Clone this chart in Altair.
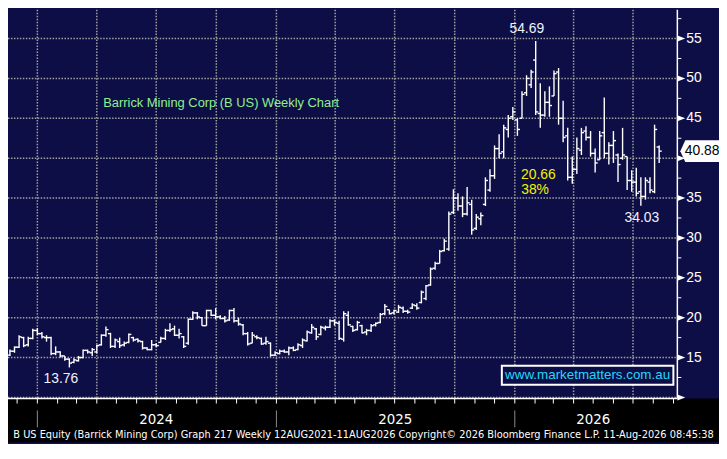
import altair as alt
import pandas as pd

# ---------------- data ----------------
first_week = "2023-11-20"

opens = [15.3, 15.8, 16.3, 17.5, 16.6, 17.4, 18.4, 18.0, 17.5, 17.5,
         15.5, 15.7, 15.2, 14.8, 14.4, 14.6, 15.0, 15.9, 15.6, 15.7,
         16.6, 17.8, 18.0, 16.4, 17.0, 16.6, 16.9, 17.5, 17.3, 17.0,
         16.2, 16.0, 16.6, 16.9, 17.4, 18.4, 18.6, 17.8, 17.6, 16.8,
         19.8, 20.6, 20.0, 19.0, 20.9, 20.3, 20.1, 19.9, 19.7, 20.9,
         19.6, 19.1, 18.0, 16.8, 17.6, 17.4, 16.8, 16.8, 15.3, 15.5,
         15.8, 15.7, 16.2, 16.0, 16.5, 17.1, 18.1, 18.6, 17.9, 18.7,
         18.8, 19.6, 19.3, 17.3, 20.3, 18.9, 18.5, 19.0, 18.2, 18.4,
         19.1, 19.4, 20.5, 21.0, 20.6, 20.7, 21.2, 20.8, 21.2, 21.5,
         21.9, 22.4, 24.1, 26.2, 26.8, 28.4, 28.6, 33.2, 35.0, 34.0,
         33.0, 34.2, 31.2, 32.4, 34.2, 36.0, 37.8, 41.2, 40.8, 43.6,
         45.2, 44.8, 45.0, 48.2, 49.2, 52.3, 45.6, 45.4, 47.0, 47.8,
         50.8, 45.0, 42.8, 37.6, 38.6, 41.0, 43.4, 42.6, 40.6, 39.8,
         43.2, 40.6, 41.6, 40.4, 40.0, 40.2, 37.2, 37.0, 35.8, 35.2,
         37.0, 35.8, 41.4]

highs = [16.0, 16.4, 17.8, 17.6, 17.6, 18.6, 18.7, 18.2, 17.8, 17.6,
         16.4, 15.8, 15.2, 14.9, 14.9, 15.2, 16.0, 16.0, 16.2, 16.6,
         17.9, 18.9, 18.1, 17.4, 17.5, 17.0, 18.0, 17.6, 17.4, 17.1,
         16.3, 17.2, 16.8, 17.6, 18.6, 19.3, 19.0, 18.6, 17.7, 19.9,
         20.8, 20.7, 20.1, 21.0, 21.0, 21.2, 20.3, 20.2, 21.0, 21.2,
         20.0, 19.2, 18.2, 18.2, 17.8, 17.5, 17.6, 16.9, 15.8, 16.0,
         16.0, 16.4, 16.4, 16.8, 17.4, 18.4, 19.2, 18.7, 19.0, 19.0,
         19.8, 19.8, 19.6, 20.8, 20.8, 19.0, 19.6, 19.1, 18.6, 19.2,
         19.4, 20.6, 21.7, 21.0, 21.0, 21.6, 21.4, 21.0, 21.8, 21.8,
         23.4, 24.1, 26.3, 27.0, 28.5, 29.9, 33.3, 36.1, 35.6, 35.2,
         36.4, 34.8, 33.0, 33.2, 37.6, 38.6, 41.6, 43.0, 44.2, 45.4,
         46.4, 45.0, 48.4, 50.4, 51.1, 54.69, 49.4, 48.4, 49.0, 51.0,
         51.3, 47.2, 43.8, 40.2, 42.6, 43.8, 44.0, 43.4, 41.2, 43.4,
         47.6, 42.0, 43.4, 40.6, 43.8, 40.2, 38.5, 38.8, 37.6, 37.6,
         37.6, 44.2, 41.6]

lows = [15.2, 15.6, 16.2, 16.3, 16.4, 17.3, 17.8, 17.4, 17.0, 15.3,
        15.3, 15.0, 14.6, 13.76, 14.3, 14.5, 14.9, 15.5, 15.2, 15.5,
        16.5, 17.6, 16.2, 16.2, 16.2, 16.4, 16.8, 17.0, 16.9, 16.0,
        15.9, 15.9, 16.3, 16.9, 17.2, 18.2, 17.7, 17.4, 16.2, 16.6,
        19.7, 19.8, 19.0, 19.0, 20.2, 19.8, 19.8, 19.4, 19.6, 19.4,
        19.0, 17.8, 16.5, 16.8, 17.3, 16.6, 16.6, 15.1, 15.2, 15.4,
        15.6, 15.3, 15.8, 15.9, 16.2, 17.0, 18.0, 17.2, 17.8, 18.4,
        18.7, 19.0, 17.2, 17.0, 19.0, 18.2, 18.4, 18.0, 17.8, 18.2,
        18.9, 19.3, 20.3, 20.4, 20.4, 20.6, 20.6, 20.5, 21.1, 21.0,
        21.8, 22.2, 24.0, 26.0, 26.8, 28.3, 28.4, 33.0, 33.4, 32.6,
        32.8, 30.4, 31.0, 31.6, 34.0, 35.8, 37.4, 40.0, 40.0, 42.6,
        44.8, 42.8, 45.0, 47.8, 48.8, 45.4, 43.8, 45.2, 45.2, 47.8,
        44.2, 42.0, 37.2, 36.8, 38.0, 40.4, 42.2, 40.2, 38.2, 39.8,
        40.0, 39.2, 39.4, 37.0, 39.8, 36.0, 35.8, 35.2, 34.03, 34.8,
        35.6, 35.6, 39.4]

closes = [15.8, 16.3, 17.6, 16.5, 17.4, 18.4, 18.0, 17.6, 17.5, 15.5,
          15.7, 15.2, 14.8, 14.3, 14.7, 15.0, 15.9, 15.7, 16.0, 16.5,
          17.8, 18.5, 16.4, 17.2, 16.5, 16.8, 17.9, 17.2, 17.1, 16.2,
          16.0, 16.6, 16.5, 17.4, 18.4, 18.5, 17.8, 18.0, 16.4, 19.8,
          20.6, 20.1, 19.0, 20.9, 20.3, 20.1, 19.9, 19.6, 20.9, 19.6,
          19.2, 18.0, 16.7, 17.8, 17.5, 16.7, 17.0, 15.3, 15.6, 15.8,
          15.7, 16.2, 15.9, 16.6, 17.2, 18.2, 18.8, 17.6, 18.8, 18.8,
          19.6, 19.4, 17.4, 20.5, 19.1, 18.4, 19.4, 18.1, 18.4, 19.0,
          19.3, 20.4, 21.4, 20.5, 20.9, 21.3, 20.8, 20.7, 21.6, 21.2,
          23.2, 24.0, 26.1, 26.8, 28.3, 29.6, 33.0, 35.0, 34.0, 33.0,
          34.4, 31.0, 32.6, 32.8, 37.2, 37.8, 41.2, 40.6, 43.8, 45.0,
          45.8, 43.6, 48.0, 50.0, 50.8, 45.8, 45.4, 47.0, 46.6, 50.6,
          45.0, 42.6, 37.6, 38.6, 41.2, 43.2, 42.6, 40.6, 39.4, 42.8,
          40.6, 41.6, 42.2, 39.2, 40.4, 37.2, 37.0, 35.6, 35.2, 37.2,
          36.0, 43.6, 40.88]

week_dates = pd.date_range(first_week, periods=len(closes), freq="7D").strftime("%Y-%m-%dT00:00:00").tolist()

price_grid = [10, 15, 20, 25, 30, 35, 40, 45, 50, 55]
axis_ticks = [10, 12.5, 15, 17.5, 20, 22.5, 25, 27.5, 30, 32.5, 35, 37.5,
              40, 42.5, 45, 47.5, 50, 52.5, 55, 57.5]
price_labels = [15, 20, 25, 30, 35, 40, 45, 50, 55]
quarter_starts = ["2024-01-01", "2024-04-01", "2024-07-01", "2024-10-01",
                  "2025-01-01", "2025-04-01", "2025-07-01", "2025-10-01",
                  "2026-01-01", "2026-04-01", "2026-07-01"]
month_starts = pd.date_range("2023-12-01", "2026-09-01", freq="MS").strftime("%Y-%m-%dT00:00:00").tolist()
year_starts = ["2024-01-01", "2025-01-01", "2026-01-01"]
year_labels = ["2024", "2025", "2026"]
year_label_dates = ["2024-07-01", "2025-07-02", "2026-05-01"]

drop_label_dates = ["2026-02-06", "2026-02-01"]
drop_label_prices = [37.4, 35.5]

title_text = "Barrick Mining Corp (B US) Weekly Chart"
site_text = "www.marketmatters.com.au"
footer_text = ("B US Equity (Barrick Mining Corp) Graph 217 Weekly 12AUG2021-11AUG2026 "
               "Copyright\u00a9 2026 Bloomberg Finance L.P. 11-Aug-2026 08:45:38")

# ---------------- derived annotation values ----------------
peak_i = highs.index(max(highs))
low_i = lows.index(min(lows))
post_i = lows.index(min(lows[peak_i:]), peak_i)
drop = highs[peak_i] - lows[post_i]
drop_texts = [f"{drop:.2f}", f"{drop / highs[peak_i] * 100:.0f}%"]

# ---------------- layout / style ----------------
W, R, H, B = 675, 42, 392, 44
NAVY = "#0e0e46"
GRID = "#a0a0a0"
FONT = "Liberation Sans"
NARROW = "DejaVu Sans Condensed, Liberation Sans Narrow, sans-serif"

xs = alt.Scale(domain=[alt.DateTime(year=2023, month=11, date=17, hours=1),
                       alt.DateTime(year=2026, month=9, date=6, hours=21)])
ys = alt.Scale(domain=[9.86, 58.6], nice=False, zero=False)


def X(field):
    return alt.X(field, scale=xs, axis=None)


def Y(field):
    return alt.Y(field, scale=ys, axis=None)


ohlc = pd.DataFrame({"date": week_dates, "open": opens, "high": highs,
                     "low": lows, "close": closes})
one = pd.DataFrame({"k": [0]})

bottom_band = alt.Chart(one).mark_rect(color="black").encode(
    x=alt.value(0), x2=alt.value(W + R), y=alt.value(H), y2=alt.value(H + B))

hgrid = alt.Chart(pd.DataFrame({"v": price_grid})).mark_rule(
    color=GRID, strokeWidth=1.5, strokeDash=[1.5, 1.5]).encode(
    y=Y("v:Q"), x=alt.value(0), x2=alt.value(W))

vgrid = alt.Chart(pd.DataFrame({"d": [q + "T00:00:00" for q in quarter_starts]})).mark_rule(
    color=GRID, strokeWidth=1.5, strokeDash=[1.5, 1.5]).encode(
    x=X("d:T"), y=alt.value(0), y2=alt.value(H))

# axes drawn through the scales
y_domain = alt.Chart(one).mark_rule(color="white", strokeWidth=1.5).encode(
    x=alt.value(W), y=alt.value(0), y2=alt.value(H))
y_ticks = alt.Chart(pd.DataFrame({"v": axis_ticks})).mark_rule(color="white", strokeWidth=1).encode(
    y=Y("v:Q"), x=alt.value(W), x2=alt.value(W + 4))
y_labels = alt.Chart(pd.DataFrame({"v": price_labels})).mark_text(
    align="left", baseline="middle", color="white", font=FONT, fontSize=14).encode(
    y=Y("v:Q"), x=alt.value(W + 9), text=alt.Text("v:Q", format="d"))
arrows = alt.Chart(pd.DataFrame({"v": price_grid})).mark_point(
    shape="M -1 -0.75 L 1 0 L -1 0.75 Z", size=64, filled=True, color="white", opacity=1,
    strokeWidth=0).encode(x=alt.value(W + 4), y=Y("v:Q"))

x_domain = alt.Chart(one).mark_rule(color="white", strokeWidth=1.5).encode(
    x=alt.value(0), x2=alt.value(W), y=alt.value(H))
x_ticks = alt.Chart(pd.DataFrame({"d": month_starts})).mark_rule(color="white", strokeWidth=1).encode(
    x=X("d:T"), y=alt.value(H), y2=alt.value(H + 5))

site_box = alt.Chart(one).mark_rect(fill=NAVY, stroke="white", strokeWidth=2).encode(
    x=alt.value(498), x2=alt.value(671), y=alt.value(359), y2=alt.value(378))
site_label = alt.Chart(pd.DataFrame({"t": [site_text]})).mark_text(
    align="center", baseline="middle", color="#1fd8f6", font=FONT, fontSize=13.5).encode(
    x=alt.value(584.5), y=alt.value(368.5), text="t:N")

title = alt.Chart(pd.DataFrame({"t": [title_text]})).mark_text(
    align="left", baseline="middle", color="#8ff08f", font=FONT, fontSize=13).encode(
    x=alt.value(96), y=alt.value(94), text="t:N")

hl = alt.Chart(ohlc).mark_rule(color="white", strokeWidth=1.4).encode(
    x=X("date:T"), y=Y("low:Q"), y2=alt.Y2("high"))
open_tick = alt.Chart(ohlc).mark_rule(color="white", strokeWidth=1.4, xOffset=-2.6, x2Offset=0).encode(
    x=X("date:T"), x2=alt.X2("date"), y=Y("open:Q"))
close_tick = alt.Chart(ohlc).mark_rule(color="white", strokeWidth=1.4, xOffset=0, x2Offset=2.6).encode(
    x=X("date:T"), x2=alt.X2("date"), y=Y("close:Q"))


def point_label(i, price, dx, dy):
    df = pd.DataFrame({"date": [week_dates[i]], "p": [price], "t": [f"{price:.2f}"]})
    return alt.Chart(df).mark_text(align="center", baseline="alphabetic", color="#eef2ff",
                                   font=FONT, fontSize=14, dx=dx, dy=dy).encode(
        x=X("date:T"), y=Y("p:Q"), text="t:N")


peak_label = point_label(peak_i, highs[peak_i], -9, -8)
low_label = point_label(low_i, lows[low_i], -8.5, 15.5)
post_label = point_label(post_i, lows[post_i], 1, 16)

drop_df = pd.DataFrame({"date": [d + "T00:00:00" for d in drop_label_dates],
                        "p": drop_label_prices, "t": drop_texts})
drop_labels = alt.Chart(drop_df).mark_text(align="center", baseline="alphabetic", color="#f2f200",
                                           font=FONT, fontSize=14).encode(
    x=X("date:T"), y=Y("p:Q"), text="t:N")

sep = alt.Chart(pd.DataFrame({"d": [y + "T00:00:00" for y in year_starts]})).mark_rule(
    color="#8c8c8c", strokeWidth=1).encode(
    x=X("d:T"), y=alt.value(H + 12), y2=alt.value(H + 29))

years = alt.Chart(pd.DataFrame({"d": [y + "T00:00:00" for y in year_label_dates], "t": year_labels})).mark_text(
    align="center", baseline="middle", color="white", font=NARROW, fontSize=15).encode(
    x=X("d:T"), y=alt.value(H + 21), text="t:N")

footer = alt.Chart(pd.DataFrame({"t": [footer_text]})).mark_text(
    align="center", baseline="middle", color="white", font=NARROW, fontSize=11).encode(
    x=alt.value((W + R) / 2), y=alt.value(H + 37), text="t:N")

last_df = pd.DataFrame({"p": [closes[-1]], "t": [f"{closes[-1]:.2f}"]})
last_box = alt.Chart(last_df).mark_point(
    shape="M -1 0 L -0.75 -0.55 L 1 -0.55 L 1 0.55 L -0.75 0.55 Z", size=1600, filled=True,
    color="white", opacity=1, strokeWidth=0).encode(x=alt.value(W + 23), y=Y("p:Q"))
last_text = alt.Chart(last_df).mark_text(
    align="center", baseline="middle", color="black", font=FONT, fontSize=14).encode(
    x=alt.value(W + 25), y=Y("p:Q"), text="t:N")

chart = alt.layer(
    bottom_band, hgrid, vgrid, site_box, site_label, title,
    hl, open_tick, close_tick,
    peak_label, low_label, post_label, drop_labels,
    y_domain, y_ticks, y_labels, arrows, x_domain, x_ticks,
    sep, years, footer, last_box, last_text
).properties(
    width=W, height=H,
    autosize=alt.AutoSizeParams(type="none"),
    padding={"left": 0, "top": 0, "right": R, "bottom": B}
).configure(background=NAVY).configure_view(stroke="transparent")

chart.save("out.html", embed_options={"renderer": "svg", "actions": False})
